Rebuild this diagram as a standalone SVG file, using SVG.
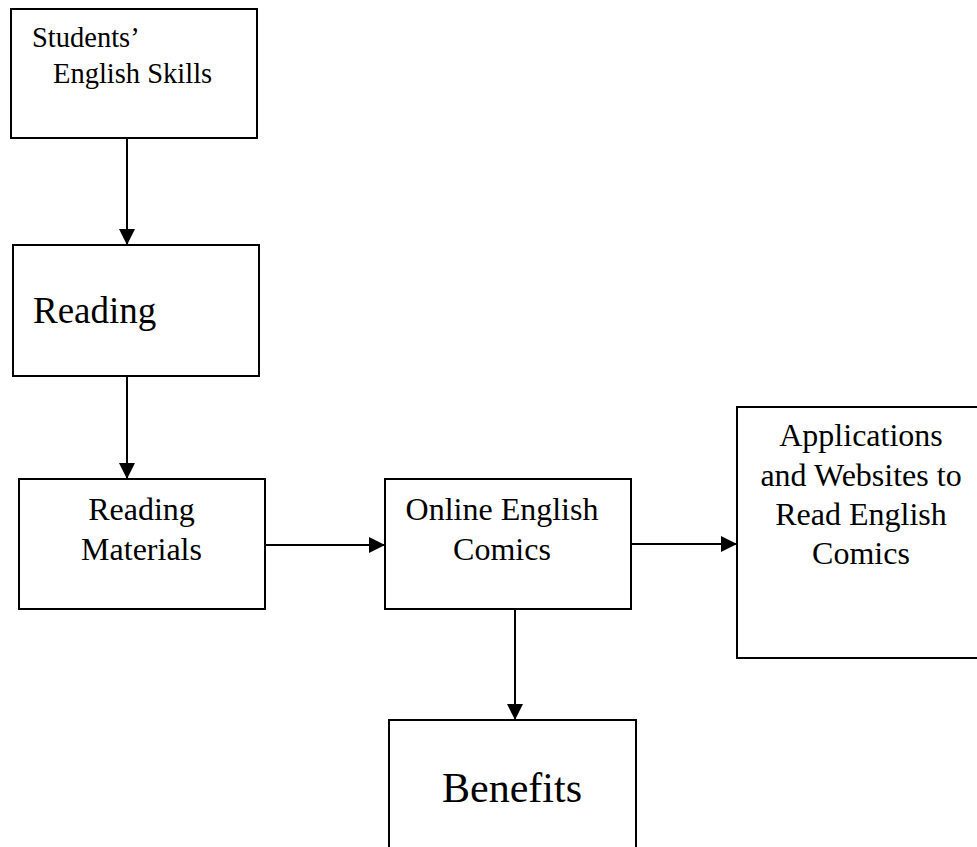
<svg xmlns="http://www.w3.org/2000/svg" width="977" height="847" viewBox="0 0 977 847">
<defs>
<style>
.box{fill:#fff;stroke:#000;stroke-width:2}
.t{font-family:"Liberation Serif","Times New Roman",serif;fill:#000}
.c{stroke:#000;stroke-width:2;fill:none}
.m{text-anchor:middle}
</style>
<marker id="ah" markerWidth="16" markerHeight="16" viewBox="0 0 16 16" refX="16" refY="8" orient="auto" markerUnits="userSpaceOnUse">
<path d="M0,0 L16,8 L0,16 Z" fill="#000"/>
</marker>
</defs>
<rect width="977" height="847" fill="#fff"/>
<g id="connectors">
<line class="c" x1="127" y1="139" x2="127" y2="245" marker-end="url(#ah)"/>
<line class="c" x1="127" y1="376" x2="127" y2="479" marker-end="url(#ah)"/>
<line class="c" x1="266" y1="545" x2="385" y2="545" marker-end="url(#ah)"/>
<line class="c" x1="632" y1="544" x2="737" y2="544" marker-end="url(#ah)"/>
<line class="c" x1="515" y1="609" x2="515" y2="720" marker-end="url(#ah)"/>
</g>
<g id="students-english-skills">
<rect class="box" x="11" y="9" width="246" height="129"/>
<text class="t" x="32" y="47" font-size="28.5">Students’</text>
<text class="t" x="53" y="83" font-size="28.5">English Skills</text>
</g>
<g id="reading">
<rect class="box" x="13" y="245" width="246" height="131"/>
<text class="t" x="33" y="323" font-size="37">Reading</text>
</g>
<g id="reading-materials">
<rect class="box" x="19" y="479" width="246" height="130"/>
<text class="t m" x="141.5" y="520" font-size="32">Reading</text>
<text class="t m" x="141.5" y="560" font-size="32">Materials</text>
</g>
<g id="online-english-comics">
<rect class="box" x="385" y="479" width="246" height="130"/>
<text class="t m" x="502" y="520" font-size="32">Online English</text>
<text class="t m" x="502" y="560" font-size="32">Comics</text>
</g>
<g id="applications-websites">
<rect class="box" x="737" y="407" width="241" height="251"/>
<text class="t m" x="861" y="446" font-size="32">Applications</text>
<text class="t m" x="861" y="486" font-size="32">and Websites to</text>
<text class="t m" x="861" y="525" font-size="32">Read English</text>
<text class="t m" x="861" y="564" font-size="32">Comics</text>
</g>
<g id="benefits">
<rect class="box" x="389" y="720" width="247" height="140"/>
<text class="t m" x="512" y="802" font-size="42">Benefits</text>
</g>
</svg>
